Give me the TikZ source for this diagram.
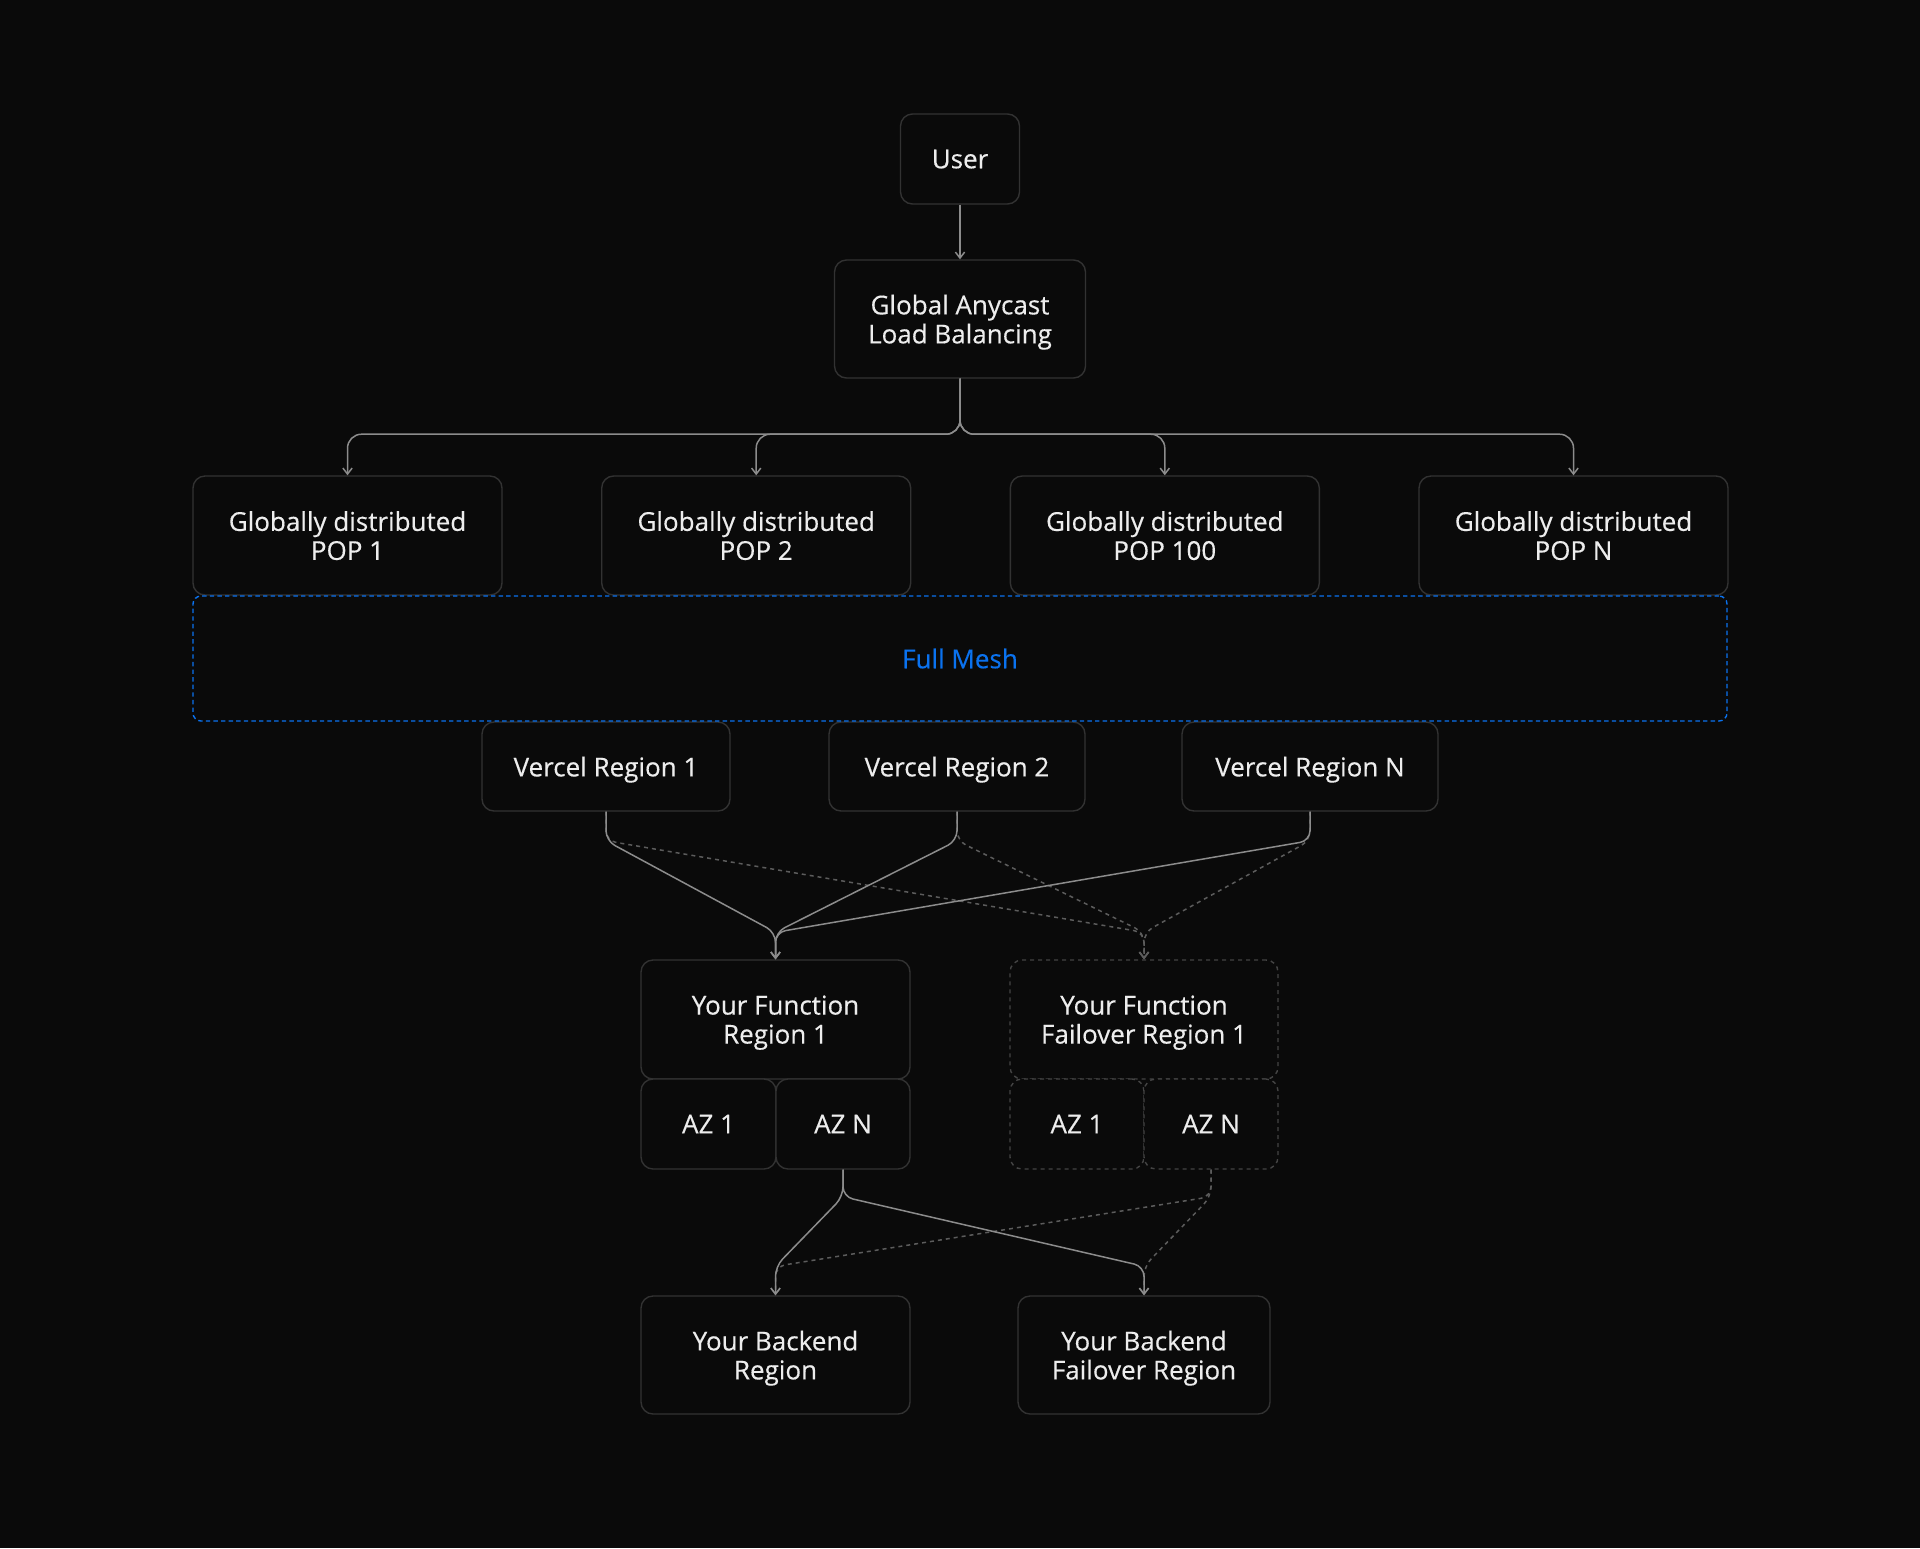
\documentclass[tikz,border=0pt]{standalone}
\usepackage{fontspec}
\setmainfont{Open Sans}[FakeBold=0.35]
\usetikzlibrary{arrows.meta,calc}
\definecolor{bg}{HTML}{0A0A0A}
\definecolor{boxline}{HTML}{323232}
\definecolor{dboxline}{HTML}{444444}
\definecolor{conn}{HTML}{8C8C8C}
\definecolor{dconn}{HTML}{5C5C5C}
\definecolor{meshblue}{HTML}{0A72EF}
\definecolor{txt}{HTML}{EDEDED}
\begin{document}
\begin{tikzpicture}[x=0.5pt,y=-0.5pt,
  box/.style={draw=boxline, line width=0.7pt, fill=bg, rounded corners=6pt,
    text=txt, font=\fontsize{13pt}{14.5pt}\selectfont, align=center, inner sep=0pt, text depth=0pt},
  dbox/.style={box, draw=dboxline, dash pattern=on 2pt off 2pt},
  meshbox/.style={draw=meshblue, line width=0.7pt, dash pattern=on 2.2pt off 1.6pt,
    rounded corners=4pt, text=meshblue, font=\fontsize{13pt}{14.5pt}\selectfont, inner sep=0pt},
  cline/.style={draw=conn, line width=0.75pt, -{Straight Barb[length=3pt,width=4.6pt,line width=0.75pt]}},
  dline/.style={draw=dconn, line width=0.75pt, dash pattern=on 2pt off 2pt,
    -{Straight Barb[length=3pt,width=4.6pt,line width=0.75pt]}}
]
\fill[bg] (0,0) rectangle (1920,1548);
\useasboundingbox (0,0) rectangle (1920,1548);

% top
\node[box, minimum width=59.5pt, minimum height=45pt] (user) at (960,159) {User};
\node[box, minimum width=125.5pt, minimum height=59pt] (glb) at (960,319) {Global Anycast\\Load Balancing};

% POPs
\node[box, minimum width=154.5pt, minimum height=59.5pt] (pop1) at (347.5,535.5) {Globally distributed\\POP 1};
\node[box, minimum width=154.5pt, minimum height=59.5pt] (pop2) at (756.2,535.5) {Globally distributed\\POP 2};
\node[box, minimum width=154.5pt, minimum height=59.5pt] (pop3) at (1164.8,535.5) {Globally distributed\\POP 100};
\node[box, minimum width=154.5pt, minimum height=59.5pt] (pop4) at (1573.5,535.5) {Globally distributed\\POP N};

% Vercel regions
\node[box, minimum width=124pt, minimum height=44.5pt] (v1) at (606,766.5) {Vercel Region 1};
\node[box, minimum width=128pt, minimum height=44.5pt] (v2) at (957,766.5) {Vercel Region 2};
\node[box, minimum width=128pt, minimum height=44.5pt] (v3) at (1310,766.5) {Vercel Region N};

% mesh
\node[meshbox, minimum width=767pt, minimum height=62.5pt] (mesh) at (960,658.5) {Full Mesh};

% function regions
\node[box, minimum width=134.5pt, minimum height=59.5pt] (f1) at (775.5,1019.5) {Your Function\\Region 1};
\node[box, minimum width=67.5pt, minimum height=45pt] (az11) at (708.5,1124) {AZ 1};
\node[box, minimum width=67pt, minimum height=45pt] (az1n) at (843,1124) {AZ N};

\node[dbox, minimum width=134pt, minimum height=59.5pt] (f2) at (1144,1019.5) {Your Function\\Failover Region 1};
\node[dbox, minimum width=67pt, minimum height=45pt] (az21) at (1077,1124) {AZ 1};
\node[dbox, minimum width=67pt, minimum height=45pt] (az2n) at (1211,1124) {AZ N};

% backends
\node[box, minimum width=134.5pt, minimum height=59pt] (b1) at (775.5,1355) {Your Backend\\Region};
\node[box, minimum width=126pt, minimum height=59pt] (b2) at (1144,1355) {Your Backend\\Failover Region};

% connectors top
\draw[cline] (user.south) -- (glb.north);
\foreach \p in {pop1,pop2,pop3,pop4}
  \draw[cline, rounded corners=7pt] (glb.south) -- ++(0,55.5) -| (\p.north);

% Vercel -> function
\foreach \v in {v1,v2,v3}{
  \draw[dline, rounded corners=5pt] (\v.south) -- ++(0,29) -- ($(f2.north)+(0,-27)$) -- (f2.north);
}
\foreach \v in {v1,v2,v3}{
  \draw[cline, rounded corners=5pt] (\v.south) -- ++(0,29) -- ($(f1.north)+(0,-27)$) -- (f1.north);
}

% AZ -> backend
\draw[dline, rounded corners=5pt] (az2n.south) -- ++(0,27) -- ($(b1.north)+(0,-29)$) -- (b1.north);
\draw[dline, rounded corners=5pt] (az2n.south) -- ++(0,27) -- ($(b2.north)+(0,-29)$) -- (b2.north);
\draw[cline, rounded corners=5pt] (az1n.south) -- ++(0,27) -- ($(b1.north)+(0,-29)$) -- (b1.north);
\draw[cline, rounded corners=5pt] (az1n.south) -- ++(0,27) -- ($(b2.north)+(0,-29)$) -- (b2.north);
\end{tikzpicture}
\end{document}
